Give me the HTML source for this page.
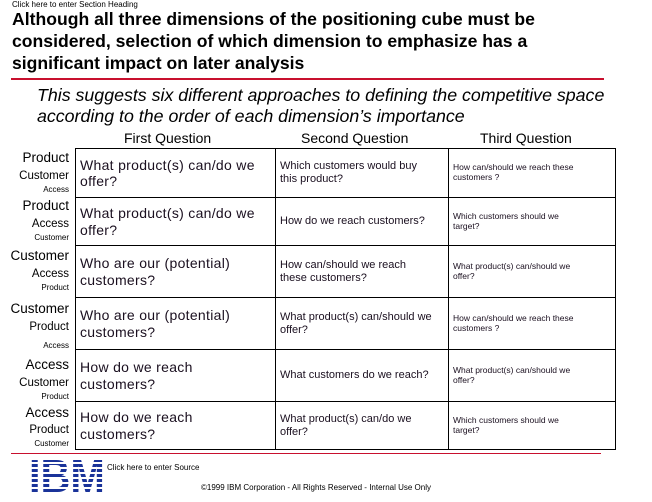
<!DOCTYPE html>
<html><head><meta charset="utf-8"><style>
body{margin:0;width:652px;height:495px;background:#fff;position:relative;overflow:hidden;font-family:"Liberation Sans",Arial,sans-serif;color:#000}
.a{position:absolute;white-space:nowrap}
table{position:absolute;left:75px;top:148px;border-collapse:collapse}
td{border:1.5px solid #000;padding:0 4px;vertical-align:middle;color:#1a0f1f;line-height:1.15;white-space:nowrap}
.c1{width:191px;font-size:14px;letter-spacing:0.3px}
.c2{width:164px;font-size:11px}
.c3{width:158px;font-size:8.5px}
.lab{position:absolute;right:583px;text-align:right;white-space:nowrap}
</style></head><body>
<div class="a" style="left:12px;top:0;font-size:8px">Click here to enter Section Heading</div>
<div class="a" style="left:12px;top:8px;font-size:17.6px;font-weight:bold;line-height:22px">Although all three dimensions of the positioning cube must be<br>considered, selection of which dimension to emphasize has a<br>significant impact on later analysis</div>
<div class="a" style="left:11px;top:78px;width:593px;height:2px;background:#c8102e"></div>
<div class="a" style="left:37px;top:85px;font-size:17.8px;font-style:italic;line-height:21px">This suggests six different approaches to defining the competitive space<br>according to the order of each dimension’s importance</div>
<div class="a" style="left:124px;top:130px;font-size:14px">First Question</div>
<div class="a" style="left:301px;top:130px;font-size:14px">Second Question</div>
<div class="a" style="left:480px;top:130px;font-size:14px">Third Question</div>
<table>
<tr style="height:49px"><td class="c1">What product(s) can/do we<br>offer?</td><td class="c2">Which customers would buy<br>this product?</td><td class="c3">How can/should we reach these<br>customers ?</td></tr>
<tr style="height:48px"><td class="c1">What product(s) can/do we<br>offer?</td><td class="c2">How do we reach customers?</td><td class="c3">Which customers should we<br>target?</td></tr>
<tr style="height:52px"><td class="c1">Who are our (potential)<br>customers?</td><td class="c2">How can/should we reach<br>these customers?</td><td class="c3">What product(s) can/should we<br>offer?</td></tr>
<tr style="height:52px"><td class="c1">Who are our (potential)<br>customers?</td><td class="c2">What product(s) can/should we<br>offer?</td><td class="c3">How can/should we reach these<br>customers ?</td></tr>
<tr style="height:52px"><td class="c1">How do we reach<br>customers?</td><td class="c2">What customers do we reach?</td><td class="c3">What product(s) can/should we<br>offer?</td></tr>
<tr style="height:48px"><td class="c1">How do we reach<br>customers?</td><td class="c2">What product(s) can/do we<br>offer?</td><td class="c3">Which customers should we<br>target?</td></tr>
</table>
<div class="lab" style="top:150px;font-size:13.5px">Product</div>
<div class="lab" style="top:170px;font-size:11.5px">Customer</div>
<div class="lab" style="top:185px;font-size:8px">Access</div>
<div class="lab" style="top:198px;font-size:13.5px">Product</div>
<div class="lab" style="top:218px;font-size:11.5px">Access</div>
<div class="lab" style="top:233px;font-size:8px">Customer</div>
<div class="lab" style="top:248px;font-size:13.5px">Customer</div>
<div class="lab" style="top:268px;font-size:11.5px">Access</div>
<div class="lab" style="top:283px;font-size:8px">Product</div>
<div class="lab" style="top:301px;font-size:13.5px">Customer</div>
<div class="lab" style="top:321px;font-size:11.5px">Product</div>
<div class="lab" style="top:341px;font-size:8px">Access</div>
<div class="lab" style="top:357px;font-size:13.5px">Access</div>
<div class="lab" style="top:377px;font-size:11.5px">Customer</div>
<div class="lab" style="top:392px;font-size:8px">Product</div>
<div class="lab" style="top:405px;font-size:13.5px">Access</div>
<div class="lab" style="top:424px;font-size:11.5px">Product</div>
<div class="lab" style="top:439px;font-size:8px">Customer</div>
<div class="a" style="left:11px;top:453px;width:590px;height:1px;background:#c8102e"></div>
<div class="a" style="left:29px;top:453px;font-size:46px;font-weight:900;color:#1a3399;line-height:46px;transform:scaleX(0.9);transform-origin:left">IBM</div>
<div class="a" style="left:26px;top:459px;width:78px;height:34px;background:repeating-linear-gradient(transparent 0 3px,#fff 3px 5px)"></div>
<div class="a" style="left:107px;top:463px;font-size:8px">Click here to enter Source</div>
<div class="a" style="left:201px;top:483px;font-size:8px">©1999 IBM Corporation - All Rights Reserved - Internal Use Only</div>
</body></html>
